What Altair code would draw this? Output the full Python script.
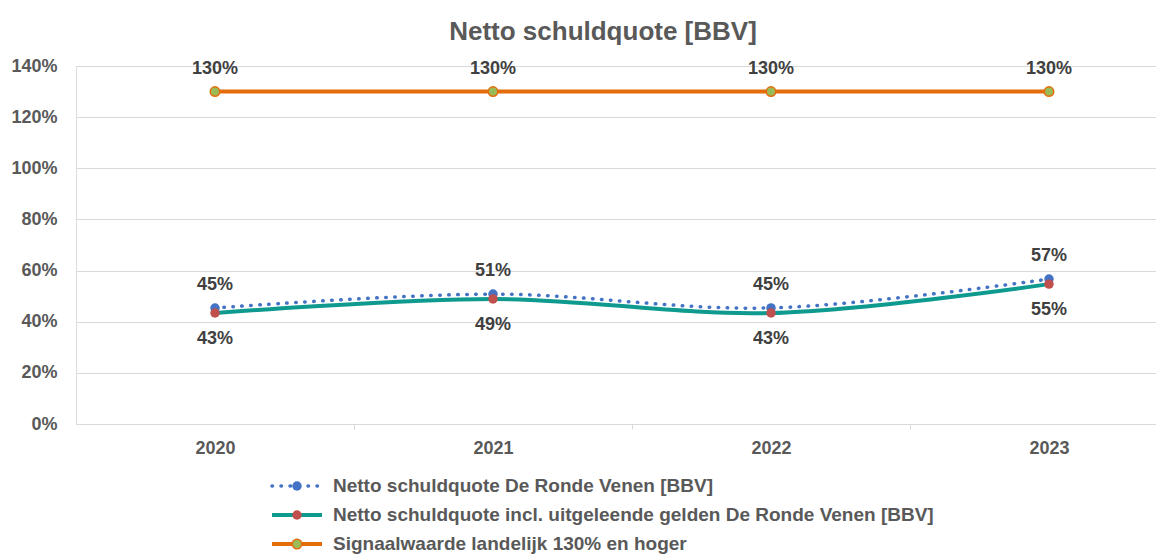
import altair as alt
import pandas as pd

years = [2020, 2021, 2022, 2023]
netto = [0.4536, 0.508, 0.454, 0.567]
netto_incl = [0.434, 0.489, 0.434, 0.547]
signaal = [1.30, 1.30, 1.30, 1.30]
series_names = [
    "Netto schuldquote De Ronde Venen [BBV]",
    "Netto schuldquote incl. uitgeleende gelden De Ronde Venen [BBV]",
    "Signaalwaarde landelijk 130% en hoger",
]
y_ticks = [0, 0.2, 0.4, 0.6, 0.8, 1.0, 1.2, 1.4]
x_ticks = [2020, 2020.5, 2021, 2021.5, 2022, 2022.5, 2023]

FONT = "Liberation Sans"
GREY = "#595959"
LBL = "#404040"
BLUE = "#4472C4"
TEAL = "#0E9A8E"
RED = "#C0504D"
ORANGE = "#E46C0A"
GREEN = "#9BBB59"

W, H = 1080, 358

df = pd.DataFrame({
    "year": years * 3,
    "value": netto + netto_incl + signaal,
    "series": [series_names[0]] * 4 + [series_names[1]] * 4 + [series_names[2]] * 4,
})

x_enc = alt.X(
    "year:Q",
    scale=alt.Scale(domain=[2019.5, 2019.5 + W / 278.0], nice=False, zero=False),
    axis=alt.Axis(
        values=x_ticks,
        labelExpr="datum.value % 1 == 0 ? toString(datum.value) : ''",
        tickOpacity={"condition": {"test": "datum.value % 1 != 0", "value": 1}, "value": 0},
        grid=False, domainColor="#D9D9D9", tickColor="#D9D9D9", tickSize=5,
        labelPadding=10, labelFont=FONT, labelFontSize=18, labelFontWeight="bold",
        labelColor=GREY, title=None,
    ),
)
y_enc = alt.Y(
    "value:Q",
    scale=alt.Scale(domain=[0, 1.4], nice=False),
    axis=alt.Axis(
        values=y_ticks, format=".0%", grid=True, gridColor="#D9D9D9", domain=False,
        ticks=False, labelPadding=19, labelFont=FONT, labelFontSize=18,
        labelFontWeight="bold", labelColor=GREY, title=None,
    ),
)

base = alt.Chart(df).encode(x=x_enc, y=y_enc)

def sel(i):
    return alt.datum.series == series_names[i]

blue_line = base.transform_filter(sel(0)).mark_line(
    color=BLUE, strokeWidth=3.5, strokeDash=[0.5, 8.5], strokeCap="round", interpolate="catmull-rom")
blue_pts = base.transform_filter(sel(0)).mark_circle(color=BLUE, size=90, opacity=1)
teal_line = base.transform_filter(sel(1)).mark_line(
    color=TEAL, strokeWidth=4, interpolate="catmull-rom")
red_pts = base.transform_filter(sel(1)).mark_circle(color=RED, size=90, opacity=1)
or_line = base.transform_filter(sel(2)).mark_line(color=ORANGE, strokeWidth=4)
or_pts = base.transform_filter(sel(2)).mark_point(
    filled=True, fill=GREEN, stroke=ORANGE, strokeWidth=1.5, size=90, opacity=1, shape="circle")

def labels(i, dy):
    return base.transform_filter(sel(i)).mark_text(
        dy=dy, font=FONT, fontSize=18, fontWeight="bold", color=LBL, baseline="middle"
    ).encode(text=alt.Text("value:Q", format=".0%"))

layers = [blue_line, blue_pts, teal_line, red_pts, or_line, or_pts,
          labels(0, -23), labels(1, 26), labels(2, -23)]

# legend
leg_y = [420, 449, 478]
line_styles = [
    dict(color=BLUE, strokeWidth=3.5, strokeDash=[0.5, 8.5], strokeCap="round"),
    dict(color=TEAL, strokeWidth=4),
    dict(color=ORANGE, strokeWidth=4),
]
for i, name in enumerate(series_names):
    ldf = pd.DataFrame({"name": [name]})
    lc = alt.Chart(ldf)
    layers.append(lc.mark_rule(**line_styles[i]).encode(
        x=alt.value(196), x2=alt.value(246), y=alt.value(leg_y[i])))
    if i == 0:
        layers.append(lc.mark_circle(color=BLUE, size=90, opacity=1).encode(
            x=alt.value(221), y=alt.value(leg_y[i])))
    elif i == 1:
        layers.append(lc.mark_circle(color=RED, size=90, opacity=1).encode(
            x=alt.value(221), y=alt.value(leg_y[i])))
    else:
        layers.append(lc.mark_point(filled=True, fill=GREEN, stroke=ORANGE, strokeWidth=1.5,
                                    size=90, opacity=1, shape="circle").encode(
            x=alt.value(221), y=alt.value(leg_y[i])))
    layers.append(lc.mark_text(align="left", baseline="middle", font=FONT, fontSize=19,
                               fontWeight="bold", color=GREY).encode(
        x=alt.value(257), y=alt.value(leg_y[i]), text="name:N"))

chart = alt.layer(*layers).properties(
    width=W, height=H,
    title=alt.Title("Netto schuldquote [BBV]", font=FONT, fontSize=26, fontWeight="bold",
                    color=GREY, anchor="middle", frame="group", dx=-13, offset=16, dy=30,
                    baseline="bottom"),
    autosize=alt.AutoSizeParams(type="none"),
    padding={"left": 68, "top": 58, "right": 0, "bottom": 140},
).configure_view(stroke=None).configure(background="white")

chart.save("out.html", embed_options={"renderer": "svg", "actions": False})
